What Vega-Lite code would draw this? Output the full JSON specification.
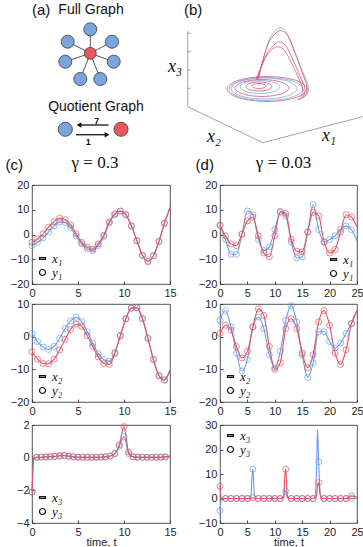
{
"$schema": "https://vega.github.io/schema/vega-lite/v6.json",
"padding": {"left": 5, "top": 0, "right": 0, "bottom": 0},
"background": "white",
"spacing": -2,
"config": {
 "font": "Liberation Sans",
 "view": {"stroke": "#262626", "strokeWidth": 0.8},
 "axis": {"grid": false, "domain": false, "labelFont": "Liberation Sans", "labelFontSize": 11, "labelColor": "#262626", "tickColor": "#262626", "tickSize": -3, "tickWidth": 0.8, "labelPadding": 6, "labelFlush": false, "labelOverlap": false, "titleFont": "Liberation Sans", "titleFontSize": 11, "titleFontWeight": "normal", "titleColor": "#262626", "titlePadding": -1},
 "axisY": {"minExtent": 26, "maxExtent": 26, "labelOverlap": false},
 "axisX": {"minExtent": 14, "maxExtent": 14, "labelOverlap": false, "labelFlush": false},
 "legend": {"labelFont": "Liberation Serif", "labelFontStyle": "italic", "labelFontSize": 13, "labelColor": "#111", "symbolSize": 36, "symbolStrokeWidth": 1.2, "symbolStrokeColor": "#111", "symbolFillColor": "transparent", "symbolOpacity": 1, "rowPadding": 0, "labelOffset": 3, "padding": 0, "offset": 4},
 "title": {"font": "Liberation Sans", "fontWeight": "normal", "color": "#111", "fontSize": 15}
},
"datasets": {
 "anodes": [
  {"u":8.93,"w":10.17,"cls":"B","role":"hub"},
  {"u":8.93,"w":12.57,"cls":"A","role":"leaf"},
  {"u":11.1,"w":11.33,"cls":"A","role":"leaf"},
  {"u":11.27,"w":9.33,"cls":"A","role":"leaf"},
  {"u":9.93,"w":7.6,"cls":"A","role":"leaf"},
  {"u":7.93,"w":7.6,"cls":"A","role":"leaf"},
  {"u":6.43,"w":9.33,"cls":"A","role":"leaf"},
  {"u":6.67,"w":11.33,"cls":"A","role":"leaf"},
  {"u":6.43,"w":2.57,"cls":"A","role":"quot"},
  {"u":12.0,"w":2.57,"cls":"B","role":"quot"}
 ],
 "aedges": [
  {"u":8.93,"w":10.17,"u2":8.93,"w2":12.57},
  {"u":8.93,"w":10.17,"u2":11.1,"w2":11.33},
  {"u":8.93,"w":10.17,"u2":11.27,"w2":9.33},
  {"u":8.93,"w":10.17,"u2":9.93,"w2":7.6},
  {"u":8.93,"w":10.17,"u2":7.93,"w2":7.6},
  {"u":8.93,"w":10.17,"u2":6.43,"w2":9.33},
  {"u":8.93,"w":10.17,"u2":6.67,"w2":11.33}
 ],
 "aarrows": [
  {"u":10.75,"w":3.0,"u2":7.9,"w2":3.0},
  {"u":7.5,"w":2.03,"u2":10.5,"w2":2.03}
 ],
 "aheads": [
  {"u":7.8,"w":3.0,"dir":"left"},
  {"u":10.6,"w":2.03,"dir":"right"}
 ],
 "atitles": [
  {"u":9.0,"w":14.5,"label":"Full Graph"},
  {"u":9.5,"w":4.77,"label":"Quotient Graph"}
 ],
 "anums": [
  {"u":9.57,"w":3.4,"label":"7"},
  {"u":8.73,"w":1.33,"label":"1"}
 ],
 "baxes": [
  {"u":0.67,"w":12.4,"u2":0.67,"w2":4.83},
  {"u":0.67,"w":4.83,"u2":8.17,"w2":1.23},
  {"u":8.17,"w":1.23,"u2":18.17,"w2":3.83},
  {"u":0.67,"w":12.17,"u2":0.97,"w2":12.17},
  {"u":0.67,"w":10.33,"u2":0.97,"w2":10.33},
  {"u":0.67,"w":8.5,"u2":0.97,"w2":8.5},
  {"u":0.67,"w":6.67,"u2":0.97,"w2":6.67}
 ],
 "bloops": [
  {"loop":"E1","cls":"B","i":0,"u":12.6,"w":6.6},{"loop":"E1","cls":"B","i":1,"u":11.43,"w":5.72},{"loop":"E1","cls":"B","i":2,"u":8.6,"w":5.35},{"loop":"E1","cls":"B","i":3,"u":5.77,"w":5.72},{"loop":"E1","cls":"B","i":4,"u":4.6,"w":6.6},{"loop":"E1","cls":"B","i":5,"u":5.77,"w":7.48},{"loop":"E1","cls":"B","i":6,"u":8.6,"w":7.85},{"loop":"E1","cls":"B","i":7,"u":11.43,"w":7.48},
  {"loop":"E7","cls":"A","i":0,"u":12.2,"w":6.6},{"loop":"E7","cls":"A","i":1,"u":11.12,"w":5.79},{"loop":"E7","cls":"A","i":2,"u":8.5,"w":5.45},{"loop":"E7","cls":"A","i":3,"u":5.88,"w":5.79},{"loop":"E7","cls":"A","i":4,"u":4.8,"w":6.6},{"loop":"E7","cls":"A","i":5,"u":5.88,"w":7.41},{"loop":"E7","cls":"A","i":6,"u":8.5,"w":7.75},{"loop":"E7","cls":"A","i":7,"u":11.12,"w":7.41},
  {"loop":"E2","cls":"A","i":0,"u":11.6,"w":6.65},{"loop":"E2","cls":"A","i":1,"u":10.63,"w":5.91},{"loop":"E2","cls":"A","i":2,"u":8.3,"w":5.6},{"loop":"E2","cls":"A","i":3,"u":5.97,"w":5.91},{"loop":"E2","cls":"A","i":4,"u":5.0,"w":6.65},{"loop":"E2","cls":"A","i":5,"u":5.97,"w":7.39},{"loop":"E2","cls":"A","i":6,"u":8.3,"w":7.7},{"loop":"E2","cls":"A","i":7,"u":10.63,"w":7.39},
  {"loop":"E3","cls":"B","i":0,"u":10.8,"w":6.7},{"loop":"E3","cls":"B","i":1,"u":10.01,"w":6.1},{"loop":"E3","cls":"B","i":2,"u":8.1,"w":5.85},{"loop":"E3","cls":"B","i":3,"u":6.19,"w":6.1},{"loop":"E3","cls":"B","i":4,"u":5.4,"w":6.7},{"loop":"E3","cls":"B","i":5,"u":6.19,"w":7.3},{"loop":"E3","cls":"B","i":6,"u":8.1,"w":7.55},{"loop":"E3","cls":"B","i":7,"u":10.01,"w":7.3},
  {"loop":"E4","cls":"A","i":0,"u":9.9,"w":6.8},{"loop":"E4","cls":"A","i":1,"u":9.31,"w":6.34},{"loop":"E4","cls":"A","i":2,"u":7.9,"w":6.15},{"loop":"E4","cls":"A","i":3,"u":6.49,"w":6.34},{"loop":"E4","cls":"A","i":4,"u":5.9,"w":6.8},{"loop":"E4","cls":"A","i":5,"u":6.49,"w":7.26},{"loop":"E4","cls":"A","i":6,"u":7.9,"w":7.45},{"loop":"E4","cls":"A","i":7,"u":9.31,"w":7.26},
  {"loop":"E5","cls":"B","i":0,"u":9.1,"w":6.85},{"loop":"E5","cls":"B","i":1,"u":8.72,"w":6.53},{"loop":"E5","cls":"B","i":2,"u":7.8,"w":6.4},{"loop":"E5","cls":"B","i":3,"u":6.88,"w":6.53},{"loop":"E5","cls":"B","i":4,"u":6.5,"w":6.85},{"loop":"E5","cls":"B","i":5,"u":6.88,"w":7.17},{"loop":"E5","cls":"B","i":6,"u":7.8,"w":7.3},{"loop":"E5","cls":"B","i":7,"u":8.72,"w":7.17},
  {"loop":"E6","cls":"B","i":0,"u":8.5,"w":6.9},{"loop":"E6","cls":"B","i":1,"u":8.29,"w":6.72},{"loop":"E6","cls":"B","i":2,"u":7.8,"w":6.65},{"loop":"E6","cls":"B","i":3,"u":7.31,"w":6.72},{"loop":"E6","cls":"B","i":4,"u":7.1,"w":6.9},{"loop":"E6","cls":"B","i":5,"u":7.31,"w":7.08},{"loop":"E6","cls":"B","i":6,"u":7.8,"w":7.15},{"loop":"E6","cls":"B","i":7,"u":8.29,"w":7.08}
 ],
 "bhump": [
  {"loop":"H1","cls":"A","i":0,"u":7.8,"w":7.7},{"loop":"H1","cls":"A","i":1,"u":8.2,"w":9.5},{"loop":"H1","cls":"A","i":2,"u":8.8,"w":11.5},{"loop":"H1","cls":"A","i":3,"u":9.5,"w":12.5},{"loop":"H1","cls":"A","i":4,"u":10.0,"w":12.7},{"loop":"H1","cls":"A","i":5,"u":10.5,"w":12.3},{"loop":"H1","cls":"A","i":6,"u":11.2,"w":10.8},{"loop":"H1","cls":"A","i":7,"u":12.0,"w":8.7},{"loop":"H1","cls":"A","i":8,"u":12.7,"w":7.0},{"loop":"H1","cls":"A","i":9,"u":12.6,"w":6.1},{"loop":"H1","cls":"A","i":10,"u":11.8,"w":5.6},
  {"loop":"H2","cls":"B","i":0,"u":7.7,"w":7.6},{"loop":"H2","cls":"B","i":1,"u":8.2,"w":9.5},{"loop":"H2","cls":"B","i":2,"u":8.8,"w":11.3},{"loop":"H2","cls":"B","i":3,"u":9.6,"w":12.3},{"loop":"H2","cls":"B","i":4,"u":10.1,"w":12.4},{"loop":"H2","cls":"B","i":5,"u":10.7,"w":11.9},{"loop":"H2","cls":"B","i":6,"u":11.4,"w":10.2},{"loop":"H2","cls":"B","i":7,"u":12.1,"w":8.3},{"loop":"H2","cls":"B","i":8,"u":12.6,"w":6.8},{"loop":"H2","cls":"B","i":9,"u":12.4,"w":5.9},{"loop":"H2","cls":"B","i":10,"u":11.6,"w":5.5},
  {"loop":"H3","cls":"B","i":0,"u":7.6,"w":7.5},{"loop":"H3","cls":"B","i":1,"u":8.1,"w":9.0},{"loop":"H3","cls":"B","i":2,"u":8.7,"w":10.3},{"loop":"H3","cls":"B","i":3,"u":9.4,"w":11.1},{"loop":"H3","cls":"B","i":4,"u":9.9,"w":11.3},{"loop":"H3","cls":"B","i":5,"u":10.5,"w":10.9},{"loop":"H3","cls":"B","i":6,"u":11.2,"w":9.5},{"loop":"H3","cls":"B","i":7,"u":11.9,"w":7.9},{"loop":"H3","cls":"B","i":8,"u":12.4,"w":6.6},{"loop":"H3","cls":"B","i":9,"u":12.2,"w":5.8},
  {"loop":"H4","cls":"B","i":0,"u":7.5,"w":7.5},{"loop":"H4","cls":"B","i":1,"u":8.0,"w":8.8},{"loop":"H4","cls":"B","i":2,"u":8.6,"w":10.0},{"loop":"H4","cls":"B","i":3,"u":9.3,"w":10.7},{"loop":"H4","cls":"B","i":4,"u":9.8,"w":10.8},{"loop":"H4","cls":"B","i":5,"u":10.4,"w":10.4},{"loop":"H4","cls":"B","i":6,"u":11.1,"w":9.1},{"loop":"H4","cls":"B","i":7,"u":11.8,"w":7.6},{"loop":"H4","cls":"B","i":8,"u":12.2,"w":6.5},{"loop":"H4","cls":"B","i":9,"u":12.0,"w":5.8}
 ],
 "blabels": [
  {"u":-0.6,"w":8.8,"label":"x₃"},
  {"u":3.3,"w":1.8,"label":"x₂"},
  {"u":14.8,"w":1.9,"label":"x₁"}
 ],
 "c1": [
  {"t":0,"x":-4.5,"y":-3.2,"o":1},{"t":0.6,"x":-3.2,"y":-1.7,"o":1},{"t":1.2,"x":-1.5,"y":0.3,"o":1},{"t":1.8,"x":1.0,"y":3.0,"o":1},{"t":2.4,"x":3.5,"y":5.2,"o":1},{"t":3.0,"x":5.0,"y":6.6,"o":1},{"t":3.6,"x":4.8,"y":6.0,"o":1},{"t":4.2,"x":2.8,"y":3.9,"o":1},{"t":4.8,"x":-0.6,"y":0.3,"o":1},{"t":5.4,"x":-3.8,"y":-3.2,"o":1},{"t":6.0,"x":-5.8,"y":-5.1,"o":1},{"t":6.6,"x":-6.5,"y":-5.9,"o":1},{"t":7.2,"x":-4.5,"y":-3.8,"o":1},{"t":7.8,"x":-0.8,"y":-0.3,"o":1},{"t":8.4,"x":4.6,"y":5.1,"o":1},{"t":9.0,"x":8.0,"y":8.3,"o":1},{"t":9.6,"x":9.4,"y":9.5,"o":1},{"t":10.2,"x":8.0,"y":8.0,"o":1},{"t":10.8,"x":3.5,"y":3.5,"o":1},{"t":11.4,"x":-2.5,"y":-2.5,"o":1},{"t":12.0,"x":-8.3,"y":-8.5,"o":1},{"t":12.6,"x":-10.8,"y":-10.9,"o":1},{"t":13.2,"x":-8.6,"y":-8.6,"o":1},{"t":13.8,"x":-2.9,"y":-2.8,"o":1},{"t":14.4,"x":4.5,"y":4.6,"o":1},{"t":15,"x":10.8,"y":10.8,"o":0}
 ],
 "c2": [
  {"t":0,"x":1.0,"y":-4.6,"o":1},{"t":0.6,"x":-1.5,"y":-6.9,"o":1},{"t":1.2,"x":-3.2,"y":-8.2,"o":1},{"t":1.8,"x":-3.9,"y":-8.3,"o":1},{"t":2.4,"x":-3.0,"y":-6.9,"o":1},{"t":3.0,"x":-0.5,"y":-4.1,"o":1},{"t":3.6,"x":2.5,"y":-0.8,"o":1},{"t":4.2,"x":4.8,"y":2.2,"o":1},{"t":4.8,"x":5.9,"y":3.8,"o":1},{"t":5.4,"x":4.6,"y":3.2,"o":1},{"t":6.0,"x":1.5,"y":0.3,"o":1},{"t":6.6,"x":-2.0,"y":-3.0,"o":1},{"t":7.2,"x":-5.2,"y":-6.2,"o":1},{"t":7.8,"x":-7.0,"y":-8.2,"o":1},{"t":8.4,"x":-7.5,"y":-8.5,"o":1},{"t":9.0,"x":-4.8,"y":-5.2,"o":1},{"t":9.6,"x":0.4,"y":0.2,"o":1},{"t":10.2,"x":5.5,"y":5.4,"o":1},{"t":10.8,"x":8.8,"y":8.7,"o":1},{"t":11.4,"x":8.9,"y":8.8,"o":1},{"t":12.0,"x":5.6,"y":5.5,"o":1},{"t":12.6,"x":-0.5,"y":-0.5,"o":1},{"t":13.2,"x":-7.0,"y":-7.0,"o":1},{"t":13.8,"x":-11.9,"y":-12.0,"o":1},{"t":14.4,"x":-13.2,"y":-13.3,"o":1},{"t":15,"x":-10.2,"y":-10.3,"o":0}
 ],
 "c3": [
  {"t":0,"x":-2.1,"y":-2.1,"o":1},{"t":0.2,"x":-0.05,"y":-0.05,"o":0},{"t":0.5,"x":0.02,"y":0.02,"o":1},{"t":1.0,"x":0.03,"y":0.03,"o":1},{"t":1.5,"x":0.04,"y":0.05,"o":1},{"t":2.0,"x":0.05,"y":0.06,"o":1},{"t":2.5,"x":0.07,"y":0.08,"o":1},{"t":3.0,"x":0.1,"y":0.12,"o":1},{"t":3.5,"x":0.12,"y":0.15,"o":1},{"t":4.0,"x":0.08,"y":0.1,"o":1},{"t":4.5,"x":0.05,"y":0.05,"o":1},{"t":5.0,"x":0.03,"y":0.03,"o":1},{"t":5.5,"x":0.02,"y":0.02,"o":1},{"t":6.0,"x":0.02,"y":0.02,"o":1},{"t":6.5,"x":0.02,"y":0.02,"o":1},{"t":7.0,"x":0.02,"y":0.02,"o":1},{"t":7.5,"x":0.03,"y":0.03,"o":1},{"t":8.0,"x":0.05,"y":0.05,"o":1},{"t":8.5,"x":0.1,"y":0.1,"o":1},{"t":9.0,"x":0.25,"y":0.25,"o":1},{"t":9.5,"x":0.7,"y":0.8,"o":1},{"t":10.0,"x":1.3,"y":1.9,"o":1},{"t":10.5,"x":0.25,"y":0.35,"o":1},{"t":11.0,"x":0.05,"y":0.05,"o":1},{"t":11.5,"x":0.03,"y":0.03,"o":1},{"t":12.0,"x":0.02,"y":0.02,"o":1},{"t":12.5,"x":0.02,"y":0.02,"o":1},{"t":13.0,"x":0.02,"y":0.02,"o":1},{"t":13.5,"x":0.02,"y":0.02,"o":1},{"t":14.0,"x":0.03,"y":0.03,"o":1},{"t":14.5,"x":0.05,"y":0.05,"o":1},{"t":15,"x":0.08,"y":0.08,"o":0}
 ],
 "d1": [
  {"t":0,"x":3.7,"y":3.7,"o":1},{"t":1,"x":-2.0,"y":-0.5,"o":1},{"t":2,"x":-8.0,"y":-3.8,"o":1},{"t":3,"x":-8.0,"y":-4.5,"o":1},{"t":4,"x":0.0,"y":0.2,"o":1},{"t":5,"x":9.5,"y":5.5,"o":1},{"t":6,"x":8.0,"y":7.0,"o":1},{"t":7,"x":-2.0,"y":-0.5,"o":1},{"t":8,"x":-6.5,"y":-7.5,"o":1},{"t":9,"x":-5.0,"y":-9.0,"o":1},{"t":10,"x":2.0,"y":-0.5,"o":1},{"t":11,"x":9.0,"y":9.3,"o":1},{"t":12,"x":7.5,"y":8.5,"o":1},{"t":13,"x":-3.0,"y":-2.0,"o":1},{"t":14,"x":-9.5,"y":-6.8,"o":1},{"t":15,"x":-9.0,"y":-7.0,"o":1},{"t":16,"x":1.0,"y":1.0,"o":1},{"t":17,"x":12.0,"y":9.0,"o":1},{"t":18,"x":2.0,"y":7.5,"o":1},{"t":19,"x":-3.0,"y":-3.0,"o":1},{"t":20,"x":-2.0,"y":-7.5,"o":1},{"t":21,"x":-0.5,"y":-6.0,"o":1},{"t":22,"x":2.0,"y":1.0,"o":1},{"t":23,"x":3.5,"y":8.0,"o":1},{"t":24,"x":2.0,"y":7.0,"o":1},{"t":25,"x":-2.5,"y":3.0,"o":0}
 ],
 "d2": [
  {"t":0,"x":5.0,"y":1.0,"o":1},{"t":1,"x":8.0,"y":3.5,"o":1},{"t":2,"x":3.0,"y":2.0,"o":1},{"t":3,"x":-5.0,"y":-3.0,"o":1},{"t":4,"x":-10.5,"y":-6.5,"o":1},{"t":5,"x":-7.0,"y":-4.5,"o":1},{"t":6,"x":3.0,"y":3.0,"o":1},{"t":7,"x":6.0,"y":8.5,"o":1},{"t":8,"x":2.5,"y":6.5,"o":1},{"t":9,"x":-5.5,"y":-3.0,"o":1},{"t":10,"x":-9.5,"y":-10.0,"o":1},{"t":11,"x":-4.5,"y":-8.0,"o":1},{"t":12,"x":5.0,"y":2.5,"o":1},{"t":13,"x":9.5,"y":5.5,"o":1},{"t":14,"x":4.5,"y":2.5,"o":1},{"t":15,"x":-5.5,"y":-5.0,"o":1},{"t":16,"x":-12.5,"y":-9.5,"o":1},{"t":17,"x":-8.0,"y":-5.5,"o":1},{"t":18,"x":1.5,"y":4.5,"o":1},{"t":19,"x":1.5,"y":8.0,"o":1},{"t":20,"x":-1.5,"y":3.5,"o":1},{"t":21,"x":-3.5,"y":-5.0,"o":1},{"t":22,"x":-2.0,"y":-8.5,"o":1},{"t":23,"x":1.0,"y":-4.0,"o":1},{"t":24,"x":4.0,"y":4.0,"o":1},{"t":25,"x":8.0,"y":8.0,"o":0}
 ],
 "d3": [
  {"t":0,"x":-5,"y":5,"o":1},{"t":0.3,"x":0,"y":0,"o":0},{"t":1,"x":0,"y":0,"o":1},{"t":2,"x":0,"y":0,"o":1},{"t":3,"x":0,"y":0,"o":1},{"t":4,"x":0,"y":0,"o":1},{"t":5,"x":0,"y":0,"o":1},{"t":5.6,"x":0.3,"y":0,"o":0},{"t":5.85,"x":9,"y":0.2,"o":0},{"t":6,"x":12,"y":0.3,"o":1},{"t":6.25,"x":2,"y":0.2,"o":0},{"t":6.5,"x":0.1,"y":0.05,"o":0},{"t":7,"x":0,"y":0,"o":1},{"t":8,"x":0,"y":0,"o":1},{"t":9,"x":0,"y":0,"o":1},{"t":10,"x":0,"y":0,"o":1},{"t":11,"x":0,"y":0,"o":1},{"t":11.6,"x":0.3,"y":0.5,"o":0},{"t":11.85,"x":3.2,"y":10,"o":0},{"t":12,"x":3,"y":12,"o":1},{"t":12.25,"x":0.5,"y":2,"o":0},{"t":12.5,"x":0.1,"y":0.1,"o":0},{"t":13,"x":0,"y":0,"o":1},{"t":14,"x":0,"y":0,"o":1},{"t":15,"x":0,"y":0,"o":1},{"t":16,"x":0,"y":0,"o":1},{"t":17,"x":0,"y":0,"o":1},{"t":17.3,"x":0.5,"y":0.2,"o":0},{"t":17.6,"x":10,"y":1,"o":0},{"t":17.8,"x":28,"y":5.5,"o":0},{"t":18,"x":15,"y":6.5,"o":1},{"t":18.25,"x":3,"y":2,"o":0},{"t":18.5,"x":0.3,"y":0.1,"o":0},{"t":19,"x":0,"y":0,"o":1},{"t":20,"x":0,"y":0,"o":1},{"t":21,"x":0,"y":0,"o":1},{"t":22,"x":0,"y":0,"o":1},{"t":23,"x":0,"y":0,"o":1},{"t":24,"x":0,"y":1,"o":1},{"t":25,"x":0,"y":0.5,"o":0}
 ]
},
"resolve": {"scale": {"color": "independent", "shape": "independent", "size": "independent"}, "legend": {"color": "independent", "shape": "independent", "size": "independent"}},
"vconcat": [
 {"hconcat": [
  {"width": 129, "height": 155, "view": {"stroke": null},
   "title": {"text": "(a)", "anchor": "start", "frame": "group", "offset": -18, "dx": 0},
   "encoding": {"x": {"field": "u", "type": "quantitative", "scale": {"domain": [3.1, 16], "nice": false, "zero": false}, "axis": null}, "y": {"field": "w", "type": "quantitative", "scale": {"domain": [0, 15.5], "nice": false, "zero": false}, "axis": null}},
   "layer": [
    {"data": {"name": "aedges"}, "mark": {"type": "rule", "color": "#555", "strokeWidth": 1},
     "encoding": {"x2": {"field": "u2"}, "y2": {"field": "w2"}}},
    {"data": {"name": "anodes"}, "mark": {"type": "point", "filled": true, "stroke": "#3a3a3a", "strokeWidth": 0.8, "opacity": 1},
     "encoding": {
      "color": {"field": "cls", "type": "nominal", "scale": {"domain": ["A", "B"], "range": ["#7aa5dc", "#e8585f"]}, "legend": null},
      "size": {"field": "role", "type": "ordinal", "scale": {"domain": ["hub", "leaf", "quot"], "range": [140, 200, 330]}, "legend": null}}},
    {"data": {"name": "aarrows"}, "mark": {"type": "rule", "color": "#111", "strokeWidth": 1.3},
     "encoding": {"x2": {"field": "u2"}, "y2": {"field": "w2"}}},
    {"data": {"name": "aheads"}, "mark": {"type": "point", "filled": true, "color": "#111", "size": 30, "opacity": 1},
     "encoding": {"shape": {"field": "dir", "type": "nominal", "scale": {"domain": ["left", "right"], "range": ["triangle-left", "triangle-right"]}, "legend": null}}},
    {"data": {"name": "atitles"}, "mark": {"type": "text", "fontSize": 14, "font": "Liberation Sans", "color": "#111"},
     "encoding": {"text": {"field": "label"}}},
    {"data": {"name": "anums"}, "mark": {"type": "text", "fontSize": 9, "fontWeight": "bold", "font": "Liberation Sans", "color": "#111"},
     "encoding": {"text": {"field": "label"}}}
   ]},
  {"width": 198, "height": 155, "view": {"stroke": null},
   "title": {"text": "(b)", "anchor": "start", "frame": "group", "offset": -18, "dx": 23},
   "encoding": {"x": {"field": "u", "type": "quantitative", "scale": {"domain": [-2, 17.8], "nice": false, "zero": false}, "axis": null}, "y": {"field": "w", "type": "quantitative", "scale": {"domain": [0, 15.5], "nice": false, "zero": false}, "axis": null}},
   "layer": [
    {"data": {"name": "baxes"}, "mark": {"type": "rule", "color": "#8c8c8c", "strokeWidth": 0.8},
     "encoding": {"x2": {"field": "u2"}, "y2": {"field": "w2"}}},
    {"data": {"name": "bloops"}, "mark": {"type": "line", "interpolate": "cardinal-closed", "strokeWidth": 0.9, "opacity": 0.85},
     "encoding": {"order": {"field": "i", "type": "quantitative"}, "detail": {"field": "loop"},
      "color": {"field": "cls", "type": "nominal", "scale": {"domain": ["A", "B"], "range": ["#7da2e3", "#d64f6b"]}, "legend": null}}},
    {"data": {"name": "bhump"}, "mark": {"type": "line", "interpolate": "cardinal", "strokeWidth": 0.9, "opacity": 0.85},
     "encoding": {"order": {"field": "i", "type": "quantitative"}, "detail": {"field": "loop"},
      "color": {"field": "cls", "type": "nominal", "scale": {"domain": ["A", "B"], "range": ["#7da2e3", "#d64f6b"]}, "legend": null}}},
    {"data": {"name": "blabels"}, "mark": {"type": "text", "font": "Liberation Serif", "fontStyle": "italic", "fontSize": 18, "color": "#111"},
     "encoding": {"text": {"field": "label"}}}
   ]}
 ], "spacing": 0, "bounds": "flush",
 "resolve": {"scale": {"color": "independent", "shape": "independent", "size": "independent"}, "legend": {"color": "independent", "shape": "independent", "size": "independent"}}},
 {"hconcat": [
  {"title": {"text": "(c)", "anchor": "start", "offset": 0, "dx": 0, "dy": 19},
   "spacing": -2,
   "resolve": {"scale": {"color": "independent", "shape": "independent"}, "legend": {"color": "independent", "shape": "independent"}},
   "vconcat": [
    {"width": 138, "height": 99,
     "title": {"text": "γ = 0.3", "font": "Liberation Serif", "fontSize": 17, "anchor": "middle", "frame": "group", "offset": 7, "dx": -6},
     "encoding": {"x": {"field": "t", "type": "quantitative", "scale": {"domain": [0, 15], "nice": false, "zero": false}, "axis": {"values": [0, 5, 10, 15], "title": null, "labelOverlap": false}},
      "y": {"field": "v", "type": "quantitative", "scale": {"domain": [-20, 20], "nice": false, "zero": false}, "axis": {"values": [-20, -10, 0, 10, 20], "title": null, "labelOverlap": false}}},
     "layer": [
      {"data": {"name": "c1"}, "transform": [{"fold": ["x", "y"], "as": ["s", "v"]}, {"filter": "isValid(datum.v)"}],
       "mark": {"type": "line", "strokeWidth": 1.1, "interpolate": "monotone"},
       "encoding": {"color": {"field": "s", "type": "nominal", "scale": {"domain": ["x", "y"], "range": ["#6b9de6", "#e4505c"]}, "legend": null}}},
      {"data": {"name": "c1"}, "transform": [{"fold": ["x", "y"], "as": ["s", "v"]}, {"filter": "datum.o == 1"}],
       "mark": {"type": "point", "size": 36, "strokeWidth": 1},
       "encoding": {"color": {"field": "s", "type": "nominal", "scale": {"domain": ["x", "y"], "range": ["#6b9de6", "#e4505c"]}, "legend": null}}},
      {"data": {"values": [{"k": "x₁"}, {"k": "y₁"}]}, "mark": {"type": "point", "opacity": 0, "color": "#111"},
       "encoding": {"x": {"value": 0}, "y": {"value": 0}, "shape": {"field": "k", "type": "nominal", "scale": {"domain": ["x₁", "y₁"], "range": ["M-1,-0.3H1V0.3H-1Z", "circle"]}, "legend": {"title": null, "orient": "bottom-left"}}}}
     ]},
    {"width": 138, "height": 98,
     "encoding": {"x": {"field": "t", "type": "quantitative", "scale": {"domain": [0, 15], "nice": false, "zero": false}, "axis": {"values": [0, 5, 10, 15], "title": null, "minExtent": 17, "maxExtent": 17, "labelOverlap": false}},
      "y": {"field": "v", "type": "quantitative", "scale": {"domain": [-20, 10], "nice": false, "zero": false}, "axis": {"values": [-20, -10, 0, 10], "title": null, "labelOverlap": false}}},
     "layer": [
      {"data": {"name": "c2"}, "transform": [{"fold": ["x", "y"], "as": ["s", "v"]}, {"filter": "isValid(datum.v)"}],
       "mark": {"type": "line", "strokeWidth": 1.1, "interpolate": "monotone"},
       "encoding": {"color": {"field": "s", "type": "nominal", "scale": {"domain": ["x", "y"], "range": ["#6b9de6", "#e4505c"]}, "legend": null}}},
      {"data": {"name": "c2"}, "transform": [{"fold": ["x", "y"], "as": ["s", "v"]}, {"filter": "datum.o == 1"}],
       "mark": {"type": "point", "size": 36, "strokeWidth": 1},
       "encoding": {"color": {"field": "s", "type": "nominal", "scale": {"domain": ["x", "y"], "range": ["#6b9de6", "#e4505c"]}, "legend": null}}},
      {"data": {"values": [{"k": "x₂"}, {"k": "y₂"}]}, "mark": {"type": "point", "opacity": 0, "color": "#111"},
       "encoding": {"x": {"value": 0}, "y": {"value": 0}, "shape": {"field": "k", "type": "nominal", "scale": {"domain": ["x₂", "y₂"], "range": ["M-1,-0.3H1V0.3H-1Z", "circle"]}, "legend": {"title": null, "orient": "bottom-left"}}}}
     ]},
    {"width": 138, "height": 98,
     "encoding": {"x": {"field": "t", "type": "quantitative", "scale": {"domain": [0, 15], "nice": false, "zero": false}, "axis": {"values": [0, 5, 10, 15], "title": "time, t", "labelOverlap": false}},
      "y": {"field": "v", "type": "quantitative", "scale": {"domain": [-4, 2], "nice": false, "zero": false}, "axis": {"values": [-4, -2, 0, 2], "title": null, "labelOverlap": false}}},
     "layer": [
      {"data": {"name": "c3"}, "transform": [{"fold": ["x", "y"], "as": ["s", "v"]}, {"filter": "isValid(datum.v)"}],
       "mark": {"type": "line", "strokeWidth": 1.1, "interpolate": "monotone"},
       "encoding": {"color": {"field": "s", "type": "nominal", "scale": {"domain": ["x", "y"], "range": ["#6b9de6", "#e4505c"]}, "legend": null}}},
      {"data": {"name": "c3"}, "transform": [{"fold": ["x", "y"], "as": ["s", "v"]}, {"filter": "datum.o == 1"}],
       "mark": {"type": "point", "size": 36, "strokeWidth": 1},
       "encoding": {"color": {"field": "s", "type": "nominal", "scale": {"domain": ["x", "y"], "range": ["#6b9de6", "#e4505c"]}, "legend": null}}},
      {"data": {"values": [{"k": "x₃"}, {"k": "y₃"}]}, "mark": {"type": "point", "opacity": 0, "color": "#111"},
       "encoding": {"x": {"value": 0}, "y": {"value": 0}, "shape": {"field": "k", "type": "nominal", "scale": {"domain": ["x₃", "y₃"], "range": ["M-1,-0.3H1V0.3H-1Z", "circle"]}, "legend": {"title": null, "orient": "bottom-left"}}}}
     ]}
   ]},
  {"title": {"text": "(d)", "anchor": "start", "offset": 0, "dx": 2, "dy": 19},
   "spacing": -2,
   "resolve": {"scale": {"color": "independent", "shape": "independent"}, "legend": {"color": "independent", "shape": "independent"}},
   "vconcat": [
    {"width": 137, "height": 99,
     "title": {"text": "γ = 0.03", "font": "Liberation Serif", "fontSize": 17, "anchor": "middle", "frame": "group", "offset": 7, "dx": -5},
     "encoding": {"x": {"field": "t", "type": "quantitative", "scale": {"domain": [0, 25], "nice": false, "zero": false}, "axis": {"values": [0, 5, 10, 15, 20, 25], "title": null, "labelOverlap": false}},
      "y": {"field": "v", "type": "quantitative", "scale": {"domain": [-20, 20], "nice": false, "zero": false}, "axis": {"values": [-20, -10, 0, 10, 20], "title": null, "labelOverlap": false}}},
     "layer": [
      {"data": {"name": "d1"}, "transform": [{"fold": ["x", "y"], "as": ["s", "v"]}, {"filter": "isValid(datum.v)"}],
       "mark": {"type": "line", "strokeWidth": 1.1, "interpolate": "monotone"},
       "encoding": {"color": {"field": "s", "type": "nominal", "scale": {"domain": ["x", "y"], "range": ["#6b9de6", "#e4505c"]}, "legend": null}}},
      {"data": {"name": "d1"}, "transform": [{"fold": ["x", "y"], "as": ["s", "v"]}, {"filter": "datum.o == 1"}],
       "mark": {"type": "point", "size": 36, "strokeWidth": 1},
       "encoding": {"color": {"field": "s", "type": "nominal", "scale": {"domain": ["x", "y"], "range": ["#6b9de6", "#e4505c"]}, "legend": null}}},
      {"data": {"values": [{"k": "x₁"}, {"k": "y₁"}]}, "mark": {"type": "point", "opacity": 0, "color": "#111"},
       "encoding": {"x": {"value": 0}, "y": {"value": 0}, "shape": {"field": "k", "type": "nominal", "scale": {"domain": ["x₁", "y₁"], "range": ["M-1,-0.3H1V0.3H-1Z", "circle"]}, "legend": {"title": null, "orient": "bottom-right", "offset": 3}}}}
     ]},
    {"width": 137, "height": 98,
     "encoding": {"x": {"field": "t", "type": "quantitative", "scale": {"domain": [0, 25], "nice": false, "zero": false}, "axis": {"values": [0, 5, 10, 15, 20, 25], "title": null, "minExtent": 17, "maxExtent": 17, "labelOverlap": false}},
      "y": {"field": "v", "type": "quantitative", "scale": {"domain": [-20, 10], "nice": false, "zero": false}, "axis": {"values": [-20, -10, 0, 10], "title": null, "labelOverlap": false}}},
     "layer": [
      {"data": {"name": "d2"}, "transform": [{"fold": ["x", "y"], "as": ["s", "v"]}, {"filter": "isValid(datum.v)"}],
       "mark": {"type": "line", "strokeWidth": 1.1, "interpolate": "monotone"},
       "encoding": {"color": {"field": "s", "type": "nominal", "scale": {"domain": ["x", "y"], "range": ["#6b9de6", "#e4505c"]}, "legend": null}}},
      {"data": {"name": "d2"}, "transform": [{"fold": ["x", "y"], "as": ["s", "v"]}, {"filter": "datum.o == 1"}],
       "mark": {"type": "point", "size": 36, "strokeWidth": 1},
       "encoding": {"color": {"field": "s", "type": "nominal", "scale": {"domain": ["x", "y"], "range": ["#6b9de6", "#e4505c"]}, "legend": null}}},
      {"data": {"values": [{"k": "x₂"}, {"k": "y₂"}]}, "mark": {"type": "point", "opacity": 0, "color": "#111"},
       "encoding": {"x": {"value": 0}, "y": {"value": 0}, "shape": {"field": "k", "type": "nominal", "scale": {"domain": ["x₂", "y₂"], "range": ["M-1,-0.3H1V0.3H-1Z", "circle"]}, "legend": {"title": null, "orient": "bottom-left"}}}}
     ]},
    {"width": 137, "height": 98,
     "encoding": {"x": {"field": "t", "type": "quantitative", "scale": {"domain": [0, 25], "nice": false, "zero": false}, "axis": {"values": [0, 5, 10, 15, 20, 25], "title": "time, t", "labelOverlap": false}},
      "y": {"field": "v", "type": "quantitative", "scale": {"domain": [-10, 30], "nice": false, "zero": false}, "axis": {"values": [-10, 0, 10, 20, 30], "title": null, "labelOverlap": false}}},
     "layer": [
      {"data": {"name": "d3"}, "transform": [{"fold": ["x", "y"], "as": ["s", "v"]}, {"filter": "isValid(datum.v)"}],
       "mark": {"type": "line", "strokeWidth": 1.1, "interpolate": "monotone"},
       "encoding": {"color": {"field": "s", "type": "nominal", "scale": {"domain": ["x", "y"], "range": ["#6b9de6", "#e4505c"]}, "legend": null}}},
      {"data": {"name": "d3"}, "transform": [{"fold": ["x", "y"], "as": ["s", "v"]}, {"filter": "datum.o == 1"}],
       "mark": {"type": "point", "size": 36, "strokeWidth": 1},
       "encoding": {"color": {"field": "s", "type": "nominal", "scale": {"domain": ["x", "y"], "range": ["#6b9de6", "#e4505c"]}, "legend": null}}},
      {"data": {"values": [{"k": "x₃"}, {"k": "y₃"}]}, "mark": {"type": "point", "opacity": 0, "color": "#111"},
       "encoding": {"x": {"value": 0}, "y": {"value": 0}, "shape": {"field": "k", "type": "nominal", "scale": {"domain": ["x₃", "y₃"], "range": ["M-1,-0.3H1V0.3H-1Z", "circle"]}, "legend": {"title": null, "orient": "top-left"}}}}
     ]}
   ]}
 ], "spacing": 16,
 "resolve": {"scale": {"color": "independent", "shape": "independent", "size": "independent"}, "legend": {"color": "independent", "shape": "independent", "size": "independent"}}}
]
}
